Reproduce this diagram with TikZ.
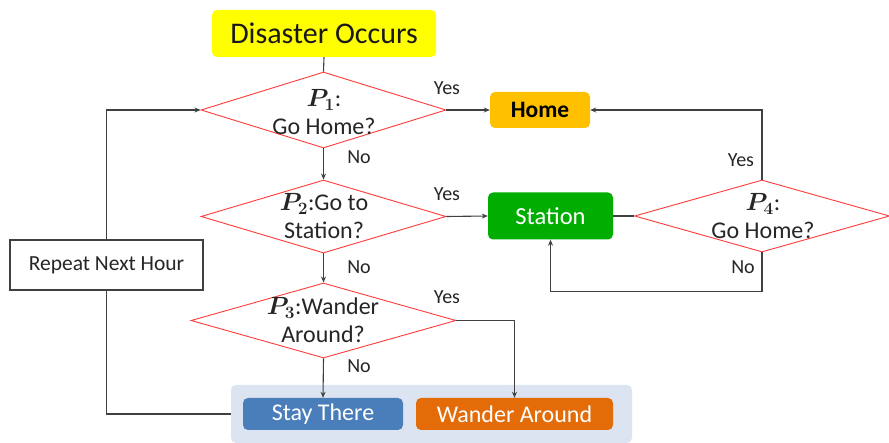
\documentclass[tikz,border=0pt]{standalone}
\usepackage{fontspec}
\setmainfont{Carlito}
\usepackage{bm}
\usetikzlibrary{shapes.geometric,arrows.meta}
\definecolor{lineg}{HTML}{404040}
\definecolor{diared}{HTML}{FF3B3B}
\definecolor{dyellow}{HTML}{FFFF00}
\definecolor{homeor}{HTML}{FFC000}
\definecolor{stgreen}{HTML}{00AD00}
\definecolor{stayblue}{HTML}{4A7EBB}
\definecolor{wandor}{HTML}{E36C09}
\definecolor{grpbg}{HTML}{DCE4F2}
\tikzset{
  lnk/.style={draw=lineg, line width=1.1pt},
  arr/.style={lnk, -{Stealth[length=6pt,width=5pt]}},
  dia/.style={diamond, draw=diared, line width=0.9pt, inner sep=0pt},
  box/.style={rounded corners=5pt, inner sep=0pt},
  lbl/.style={font=\fontsize{20}{22}\selectfont, text=black!85},
  dtxt/.style={font=\fontsize{24}{28}\selectfont, align=center, text=black!85},
}
\begin{document}
\begin{tikzpicture}[x=1pt,y=-1pt]
\useasboundingbox[fill=white] (0,0) rectangle (889,443);
% group background
\node[box, fill=grpbg, minimum width=401pt, minimum height=58pt] (grp) at (431.5,414) {};
% boxes
\node[box, fill=dyellow, minimum width=224pt, minimum height=47pt, font=\fontsize{30}{32}\selectfont, text=black!90] (dis) at (324,33.5) {Disaster Occurs};
\node[box, fill=homeor, minimum width=100pt, minimum height=36pt, font=\fontsize{23.5}{25}\selectfont\bfseries] (home) at (540,110) {Home};
\node[box, fill=stgreen, minimum width=125pt, minimum height=47pt, font=\fontsize{24.5}{26}\selectfont, text=white] (station) at (550.5,216) {Station};
\node[box, fill=stayblue, minimum width=160pt, minimum height=32pt, font=\fontsize{24}{26}\selectfont, text=white] (stay) at (323,414) {Stay There};
\node[box, fill=wandor, minimum width=197pt, minimum height=32pt, font=\fontsize{24}{26}\selectfont, text=white] (wander) at (514.5,414) {Wander Around};
\node[draw=lineg, line width=1.1pt, minimum width=193pt, minimum height=50pt, font=\fontsize{21.5}{23}\selectfont, text=black!85] (repeat) at (106.5,265) {Repeat Next Hour};
% diamonds
\node[dia, minimum width=245pt, minimum height=76pt] (p1) at (323.5,110) {};
\node[dia, minimum width=245pt, minimum height=73pt] (p2) at (323.5,216.5) {};
\node[dia, minimum width=265pt, minimum height=75pt] (p3) at (323.5,320.5) {};
\node[dia, minimum width=255pt, minimum height=72pt] (p4) at (762,216) {};
\node[dtxt] (t1) at (324,112) {$\bm{P}_{\bm{1}}$:\\Go Home?};
\node[dtxt] (t2) at (324,216) {$\bm{P}_{\bm{2}}$:Go to\\Station?};
\node[dtxt] (t3) at (323,320) {$\bm{P}_{\bm{3}}$:Wander\\Around?};
\node[dtxt] (t4) at (763,216) {$\bm{P}_{\bm{4}}$:\\Go Home?};
% labels
\node[lbl] (y1) at (447,88) {Yes};
\node[lbl] (y2) at (447,194) {Yes};
\node[lbl] (y3) at (447,297) {Yes};
\node[lbl] (y4) at (741,160) {Yes};
\node[lbl] (n1) at (359,157) {No};
\node[lbl] (n2) at (359,267) {No};
\node[lbl] (n3) at (359,366) {No};
\node[lbl] (n4) at (743,267) {No};
% connectors
\draw[lnk] (dis.south) -- (p1.north);
\draw[arr] (p1.east) -- (home.west);
\draw[arr] (p1.south) -- (p2.north);
\draw[arr] (p2.east) -- (station.west);
\draw[lnk] (station.east) -- (p4.west);
\draw[arr] (p4.north) |- (home.east);
\draw[arr] (p4.south) -- ++(0,39) -| (station.south);
\draw[arr] (p2.south) -- (p3.north);
\draw[arr] (p3.east) -| (wander.north);
\draw[arr] (p3.south) -- (stay.north);
\draw[lnk] (grp.west) -| (repeat.south);
\draw[arr] (repeat.north) |- (p1.west);
\end{tikzpicture}
\end{document}
